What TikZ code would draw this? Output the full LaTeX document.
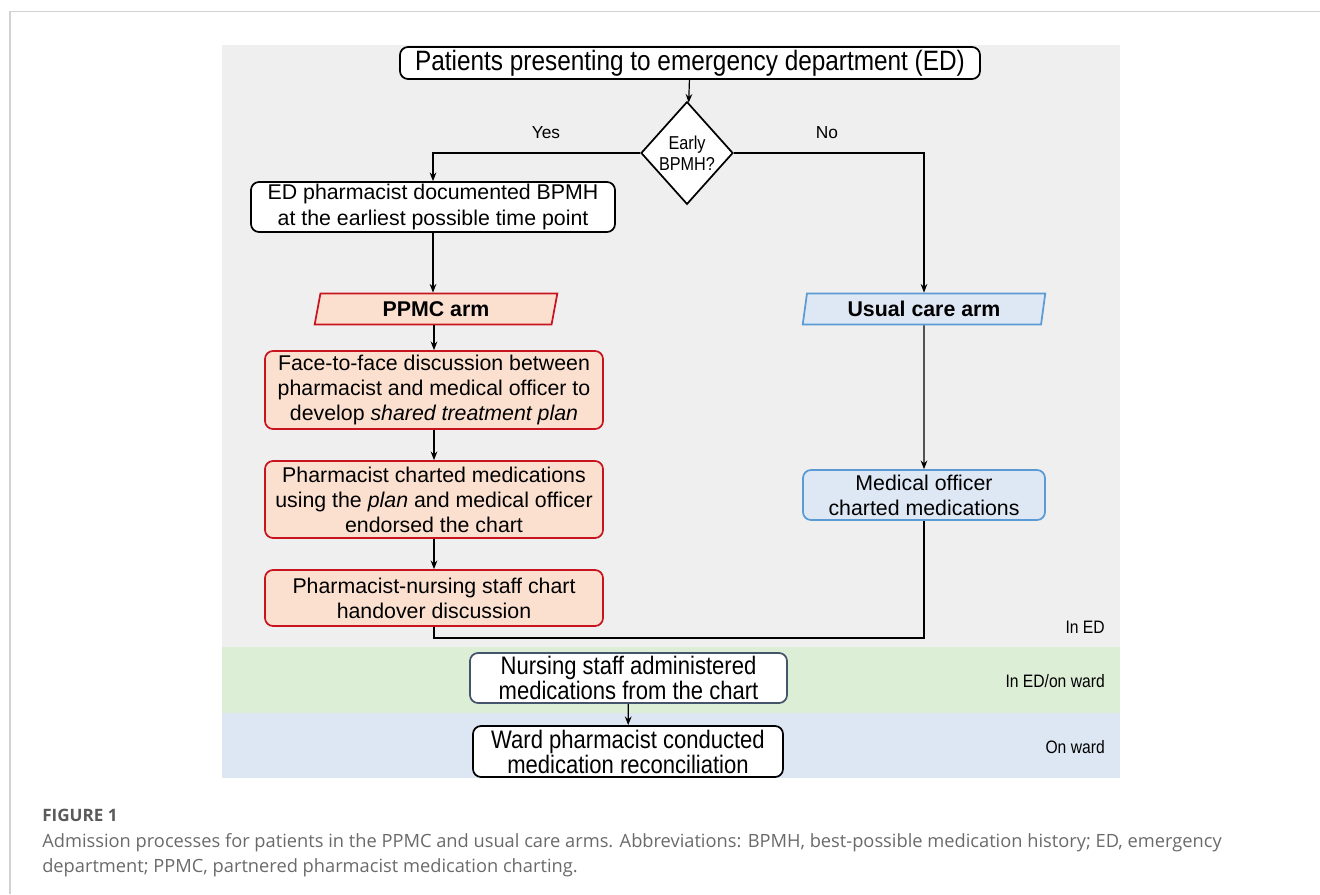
\documentclass[tikz,border=0pt]{standalone}
\usepackage{fontspec}
\setmainfont{Liberation Sans}
\newfontfamily\narrowfont{Liberation Sans}[FakeStretch=0.87]
\newfontfamily\capfont{Open Sans}
\usetikzlibrary{shapes.geometric,arrows.meta}
\definecolor{bggrey}{HTML}{EFEFEF}
\definecolor{bggreen}{HTML}{DDEED7}
\definecolor{bgblue}{HTML}{DDE6F3}
\definecolor{peach}{HTML}{FBE0D0}
\definecolor{redline}{HTML}{C8141E}
\definecolor{lblue}{HTML}{DEE8F5}
\definecolor{blueline}{HTML}{5B9BD5}
\definecolor{slate}{HTML}{44546A}
\definecolor{framecol}{HTML}{D2D2D2}
\definecolor{capgrey}{HTML}{6A6A6A}
\tikzset{
  box/.style={draw=black, line width=1.3pt, rounded corners=6pt, fill=white, align=center, inner sep=0pt},
  redbox/.style={box, draw=redline, fill=peach, font=\fontsize{16}{18.75}\selectfont},
  bluebox/.style={box, draw=blueline, fill=lblue, font=\fontsize{16}{18.75}\selectfont},
  arm/.style={trapezium, trapezium left angle=80, trapezium right angle=100, trapezium stretches=true,
     line width=1.3pt, inner sep=0pt, minimum width=182pt, minimum height=23.25pt, font=\fontsize{16}{19}\selectfont\bfseries},
  arr/.style={-{Stealth[length=6.5pt,width=5pt]}, line width=0.9pt},
  conn/.style={line width=0.9pt},
  lab/.style={font=\narrowfont\fontsize{13.5}{16}\selectfont, anchor=east, inner sep=0pt},
}
\begin{document}
\begin{tikzpicture}[x=0.75pt,y=-0.75pt]
\useasboundingbox (0,0) rectangle (1320,894);
% backgrounds
\fill[bggrey] (222,45) rectangle (1120,647);
\fill[bggreen] (222,647) rectangle (1120,713);
\fill[bgblue] (222,713) rectangle (1120,778);
\draw[framecol, line width=1.1pt] (10,894) -- (10,11.5) -- (1320,11.5);
% nodes
\node[box, minimum width=435pt, minimum height=24pt, font=\narrowfont\fontsize{21}{24}\selectfont] (top) at (690,63) {Patients presenting to emergency department (ED)};
\node[diamond, draw=black, line width=1.3pt, fill=white, inner sep=0pt, minimum width=69pt, minimum height=77pt, align=center, font=\narrowfont\fontsize{14}{16}\selectfont] (dia) at (687,153) {Early\\BPMH?};
\node[font=\fontsize{13}{15}\selectfont] (yes) at (546,133) {Yes};
\node[font=\fontsize{13}{15}\selectfont] (no) at (827,133) {No};
\node[box, minimum width=273pt, minimum height=37.5pt, font=\fontsize{16}{19.5}\selectfont] (ed) at (433,207) {ED pharmacist documented BPMH\\at the earliest possible time point};
\node[arm, draw=redline, fill=peach] (ppmc) at (436,309) {PPMC arm};
\node[arm, draw=blueline, fill=lblue] (usual) at (924,309) {Usual care arm};
\node[redbox, minimum width=253.5pt, minimum height=58.5pt] (face) at (434,390) {Face-to-face discussion between\\pharmacist and medical officer to\\develop \textit{shared treatment plan}};
\node[redbox, minimum width=253.5pt, minimum height=57.75pt] (chart) at (434,499.5) {Pharmacist charted medications\\using the \textit{plan} and medical officer\\endorsed the chart};
\node[redbox, minimum width=253.5pt, minimum height=42pt] (hand) at (434,598) {Pharmacist-nursing staff chart\\handover discussion};
\node[bluebox, minimum width=181.5pt, minimum height=37.5pt] (med) at (924,495) {Medical officer\\charted medications};
\node[box, draw=slate, minimum width=237.75pt, minimum height=37.5pt, font=\narrowfont\fontsize{19}{17.5}\selectfont] (nurse) at (628.5,678) {Nursing staff administered\\medications from the chart};
\node[box, minimum width=232.5pt, minimum height=38.25pt, font=\narrowfont\fontsize{19}{17.5}\selectfont] (ward) at (628,751.5) {Ward pharmacist conducted\\medication reconciliation};
% labels
\node[lab] (l1) at (1105,627) {In ED};
\node[lab] (l2) at (1105,681) {In ED/on ward};
\node[lab] (l3) at (1105,747) {On ward};
% connectors
\coordinate (m) at (434,638);
\draw[arr] (top) -- (dia);
\draw[arr] (dia.west) -| (ed);
\draw[arr] (dia.east) -| (usual);
\draw[arr] (ed.south) -- (ed.south |- ppmc.north);
\draw[arr] (face.north |- ppmc.south) -- (face.north);
\draw[arr] (face) -- (chart);
\draw[arr] (chart) -- (hand);
\draw[arr] (usual) -- (med);
\draw[conn] (hand.south) -- (m) -| (med.south);
\draw[arr] (nurse) -- (ward);
% caption
\node[anchor=base west, inner sep=0pt, text=capgrey!85!black, font=\capfont\bfseries\fontsize{12.8}{15}\selectfont] (fig) at (42,821) {FIGURE 1};
\node[anchor=base west, inner sep=0pt, text=capgrey, font=\capfont\fontsize{13.7}{16}\selectfont] (cap1) at (42,847) {Admission processes for patients in the PPMC and usual care arms. Abbreviations: BPMH, best-possible medication history; ED, emergency};
\node[anchor=base west, inner sep=0pt, text=capgrey, font=\capfont\fontsize{13.7}{16}\selectfont] (cap2) at (42,872) {department; PPMC, partnered pharmacist medication charting.};
\end{tikzpicture}
\end{document}
